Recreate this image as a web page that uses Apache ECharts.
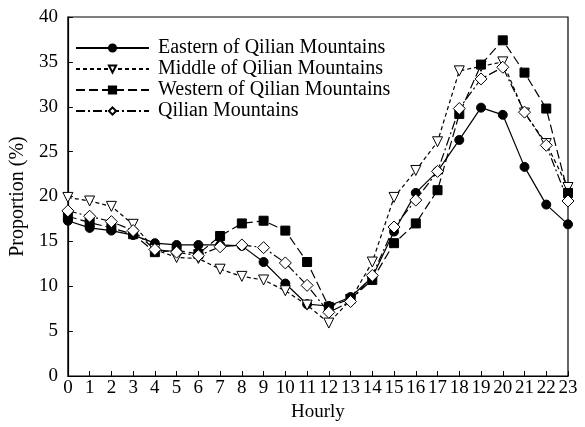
<!DOCTYPE html>
<html>
<head>
<meta charset="utf-8">
<script src="https://cdn.jsdelivr.net/npm/echarts@6/dist/echarts.min.js"></script>
<style>
  html, body { margin: 0; padding: 0; background: #fff; overflow: hidden; }
  #chart { width: 585px; height: 427px; }
</style>
</head>
<body>
<div id="chart"></div>
<script>
// Hour of day
const hours = [0,1,2,3,4,5,6,7,8,9,10,11,12,13,14,15,16,17,18,19,20,21,22,23];

// Proportion (%) of each hour, per region
const eastern = [17.3,16.5,16.2,15.7,14.8,14.6,14.6,14.6,14.5,12.7,10.3,8.0,7.8,8.8,11.0,16.1,20.4,22.8,26.3,29.9,29.1,23.3,19.1,16.9];
const middle  = [19.9,19.5,18.9,16.9,14.1,13.2,13.1,11.9,11.1,10.7,9.5,7.9,5.9,8.5,12.7,19.9,22.9,26.1,34.0,34.5,35.0,29.3,25.9,21.0];
const western = [17.8,17.1,16.5,15.8,13.8,14.0,13.6,15.6,17.0,17.3,16.2,12.7,7.7,8.6,10.7,14.8,17.0,20.7,29.2,34.7,37.4,33.8,29.8,20.4];
const qilian  = [18.4,17.8,17.2,16.2,14.1,13.8,13.4,14.4,14.6,14.3,12.6,10.1,7.1,8.3,11.2,16.6,19.6,22.8,29.8,33.1,34.4,29.4,25.7,19.5];

const names = [
  'Eastern of Qilian Mountains',
  'Middle of Qilian Mountains',
  'Western of Qilian Mountains',
  'Qilian Mountains'
];

const font = 'Liberation Serif, Times New Roman, serif';

function pairs(vals) { return hours.map((h, i) => [h, vals[i]]); }

function lineSeries(name, vals, symbol, size, fill, dash, rotate) {
  return {
    name: name,
    type: 'line',
    data: pairs(vals),
    symbol: symbol,
    symbolSize: size,
    symbolRotate: rotate || 0,
    showAllSymbol: true,
    lineStyle: { color: '#000', width: 1.2, type: dash },
    itemStyle: { color: fill, borderColor: '#000', borderWidth: 1 },
    emphasis: { disabled: true },
    z: 2
  };
}

const chart = echarts.init(document.getElementById('chart'), null, { renderer: 'canvas', width: 585, height: 427 });
chart.setOption({
  animation: false,
  backgroundColor: '#fff',
  textStyle: { fontFamily: font, color: '#000' },
  grid: {
    left: 66, right: 17, top: 17, bottom: 46,
    show: true, borderColor: '#000', borderWidth: 1.2
  },
  legend: {
    orient: 'vertical',
    left: 70, top: 33,
    itemWidth: 73, itemHeight: 9, itemGap: 1,
    textStyle: { fontFamily: font, fontSize: 20, color: '#000', padding: [0, 0, 0, 4] },
    data: names
  },
  xAxis: {
    type: 'value',
    min: 0, max: 23, interval: 1,
    name: 'Hourly',
    nameLocation: 'middle',
    nameGap: 27,
    nameTextStyle: { fontFamily: font, fontSize: 19, color: '#000' },
    axisLine: { lineStyle: { color: '#000', width: 1.2 } },
    axisTick: { inside: true, length: 5, lineStyle: { color: '#000' } },
    axisLabel: { fontFamily: font, fontSize: 19, color: '#000', margin: 3 },
    splitLine: { show: false }
  },
  yAxis: {
    type: 'value',
    min: 0, max: 40, interval: 5,
    name: 'Proportion (%)',
    nameLocation: 'middle',
    nameGap: 38,
    nameTextStyle: { fontFamily: font, fontSize: 20, color: '#000' },
    axisLine: { show: true, lineStyle: { color: '#000', width: 1.2 } },
    axisTick: { show: true, inside: true, length: 5, lineStyle: { color: '#000' } },
    axisLabel: { fontFamily: font, fontSize: 19, color: '#000', margin: 10 },
    splitLine: { show: false }
  },
  series: [
    lineSeries(names[0], eastern, 'circle', 9, '#000', 'solid'),
    lineSeries(names[1], middle, 'triangle', 10, '#fff', [4, 3], 180),
    lineSeries(names[2], western, 'rect', 9, '#000', [9, 4]),
    lineSeries(names[3], qilian, 'diamond', 12, '#fff', [9, 3, 2, 3])
  ]
});
</script>
</body>
</html>
